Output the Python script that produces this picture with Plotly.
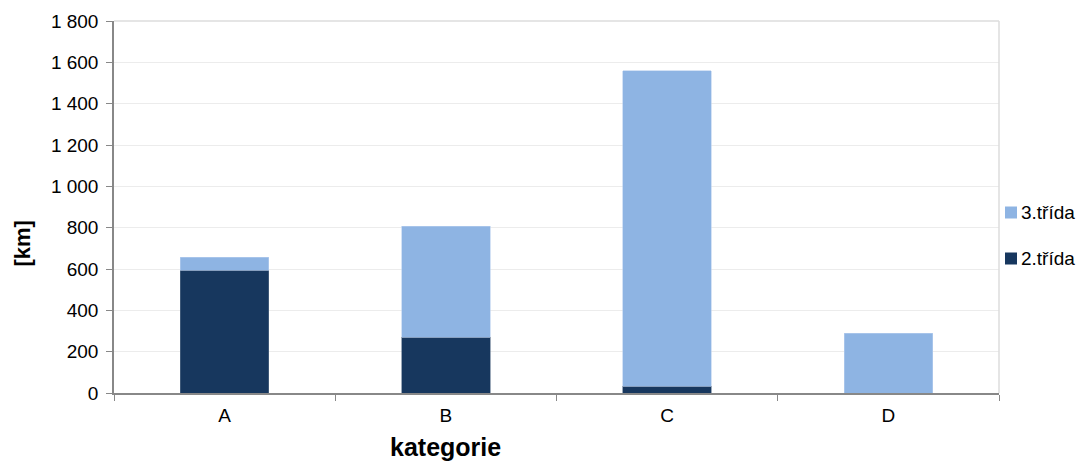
import plotly.graph_objects as go

categories = ["A", "B", "C", "D"]
trida2 = [594, 269, 32, 0]
trida3 = [62, 537, 1528, 288]

FONT = "Liberation Sans, Arial, sans-serif"
DARK = "#17375E"
LIGHT = "#8EB4E3"

W, H = 1081, 463
L, R, T, B = 114, 82, 21, 70
pw, ph = W - L - R, H - T - B


def px(x):
    return (x - L) / pw


def py(y):
    return (H - B - y) / ph


fig = go.Figure()
fig.add_trace(go.Bar(x=categories, y=trida2, name="2.třída",
                     marker=dict(color=DARK, line=dict(color="#5a6f8a", width=0.6)),
                     width=0.4))
fig.add_trace(go.Bar(x=categories, y=trida3, name="3.třída",
                     marker=dict(color=LIGHT, line=dict(color="#b8cfee", width=0.6)),
                     width=0.4))

fig.update_layout(
    barmode="stack",
    width=W, height=H,
    margin=dict(l=L, r=R, t=T, b=B),
    plot_bgcolor="white", paper_bgcolor="white",
    separators=", ",
    font=dict(family=FONT, size=19, color="black"),
    showlegend=False,
)
fig.update_xaxes(
    type="category", tickson="boundaries", ticks="outside", ticklen=6,
    tickcolor="#888", showline=True, linecolor="#888", linewidth=1.5,
    showgrid=False, automargin=False, ticklabelstandoff=4,
)
fig.update_yaxes(
    range=[0, 1800], dtick=200, tickformat=",d", ticks="outside", ticklen=6,
    tickcolor="#888", showline=True, linecolor="#888", linewidth=1.5,
    gridcolor="#ececec", zeroline=False, automargin=False, ticklabelstandoff=4,
)
# light frame on top and right
fig.add_shape(type="line", xref="paper", yref="paper", x0=0, x1=1, y0=1, y1=1,
              line=dict(color="#dddddd", width=1.5))
fig.add_shape(type="line", xref="paper", yref="paper", x0=1, x1=1, y0=0, y1=1,
              line=dict(color="#dddddd", width=1.5))

# axis titles (placed where the original puts them, off-centre)
fig.add_annotation(xref="paper", yref="paper", x=px(445), y=py(463),
                   text="<b>kategorie</b>", showarrow=False,
                   xanchor="center", yanchor="bottom", font=dict(size=25))
fig.add_annotation(xref="paper", yref="paper", x=px(22), y=py(243.5),
                   text="<b>[km]</b>", showarrow=False, textangle=-90,
                   xanchor="center", yanchor="middle", font=dict(size=22))

# legend drawn beside the plot (3.třída above 2.třída)
for name, color, yc in [("3.třída", LIGHT, 212.5), ("2.třída", DARK, 258.5)]:
    fig.add_shape(type="rect", xref="paper", yref="paper",
                  x0=px(1005), x1=px(1017), y0=py(yc + 6), y1=py(yc - 6),
                  fillcolor=color, line=dict(width=0))
    fig.add_annotation(xref="paper", yref="paper", x=px(1019), y=py(yc),
                       text=name, showarrow=False, xanchor="left", yanchor="middle",
                       font=dict(size=19))

# page body margin would shift the chart by 8px
fig.write_html("out.html", config={"displayModeBar": False},
               post_script="document.body.style.margin='0';")
